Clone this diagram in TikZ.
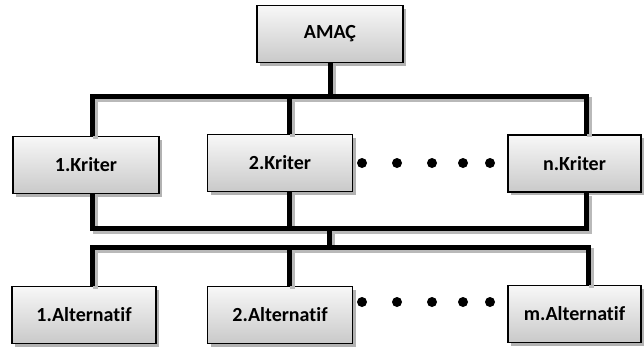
\documentclass[tikz,border=0pt]{standalone}
\usepackage{fontspec}
\setmainfont[Ligatures=NoCommon]{Carlito}
\usetikzlibrary{shadows}
\newcommand{\drawlinks}[1]{%
  \draw[#1] (amac.south) -- (tb);
  \draw[#1] (k1.north -| c1) |- (tb) -| (kn.north -| c3);
  \draw[#1] (k2.north -| c2) -- (c2 |- tb);
  \draw[#1] (k1.south -| c1) |- (mb) -| (kn.south -| c3);
  \draw[#1] (k2.south -| c2) -- (c2 |- mb);
  \draw[#1] (mb) -- (ab);
  \draw[#1] (a1.north -| c1) |- (ab) -| (am.north -| c4);
  \draw[#1] (a2.north -| c2) -- (c2 |- ab);
}
\begin{document}
\begin{tikzpicture}[x=1pt,y=-1pt,
  box/.style={draw=black, line width=1.2pt, top color=gray!6, bottom color=gray!42,
    minimum height=57pt, inner sep=0pt, font=\fontsize{20}{24}\selectfont\bfseries,
    drop shadow={shadow xshift=3pt, shadow yshift=-3pt, fill=gray!60, opacity=1}},
  conn/.style={line width=5pt, black, line join=miter},
  connsh/.style={line width=5pt, gray!55, line join=miter},
  dot/.style={circle, fill=black, inner sep=0pt, minimum size=10pt}]
\useasboundingbox (0,0) rectangle (644,346);
% boxes
\node[box, minimum width=146pt] (amac) at (330,34) {AMAÇ};
\node[box, minimum width=146pt] (k1) at (86,165) {1.Kriter};
\node[box, minimum width=145pt] (k2) at (280,163) {2.Kriter};
\node[box, minimum width=133pt] (kn) at (574.5,163.5) {n.Kriter};
\node[box, minimum width=144pt] (a1) at (84,315) {1.Alternatif};
\node[box, minimum width=145pt] (a2) at (280,315) {2.Alternatif};
\node[box, minimum width=133pt] (am) at (574.5,314) {m.Alternatif};
% junction coordinates
\coordinate (c1) at (92,0);
\coordinate (c2) at (289,0);
\coordinate (c3) at (586,0);
\coordinate (c4) at (588,0);
\coordinate (tb) at (330,96);
\coordinate (mb) at (329,228);
\coordinate (ab) at (329,247);
% connectors
\begin{scope}[transform canvas={xshift=3pt,yshift=-3pt}]
\drawlinks{connsh}
\end{scope}
\drawlinks{conn}
% dots
\foreach \n/\x in {1/362,2/397,3/432,4/463,5/490}{
  \node[dot] (kd\n) at (\x,163) {};
  \node[dot] (ad\n) at (\x,302) {};
}
\end{tikzpicture}
\end{document}
